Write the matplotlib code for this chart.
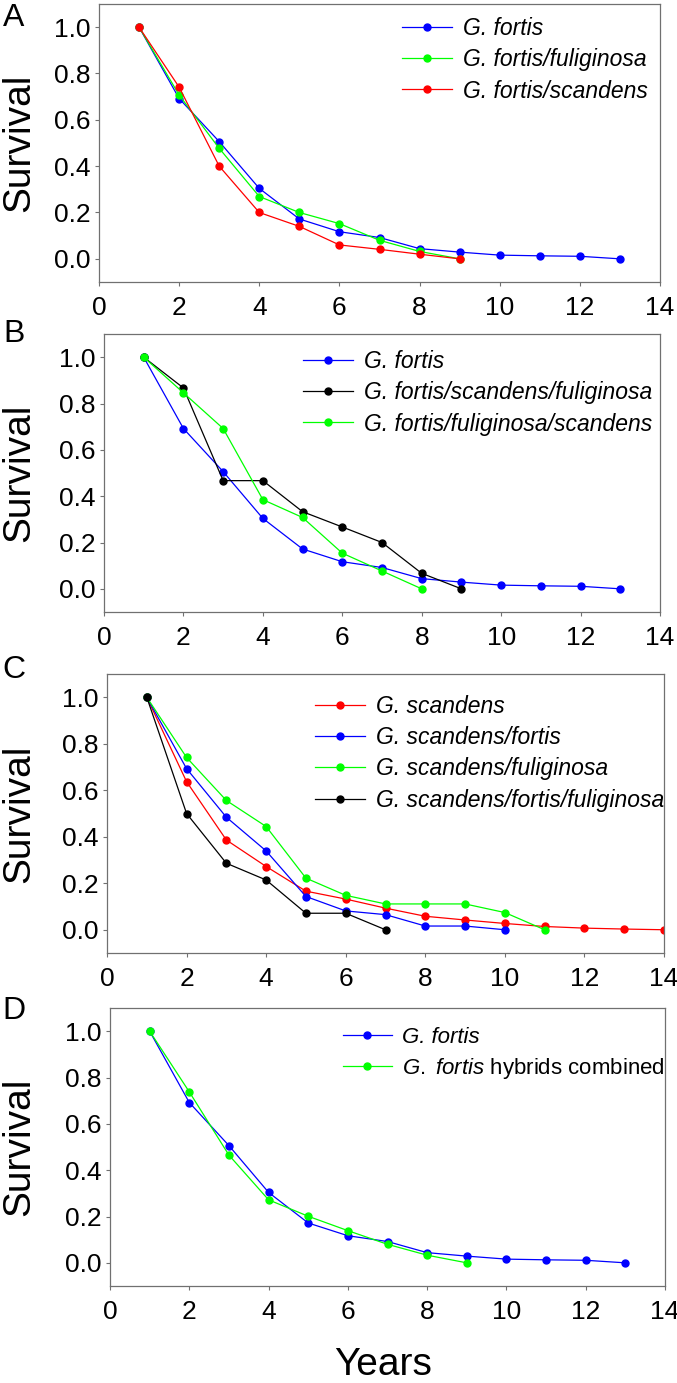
import numpy as np
import matplotlib
matplotlib.use("Agg")
from matplotlib import pyplot as plt

plt.rcParams['font.family'] = ['Liberation Sans', 'DejaVu Sans']
plt.rcParams['mathtext.fontset'] = 'custom'
plt.rcParams['mathtext.rm'] = 'Liberation Sans'
plt.rcParams['mathtext.it'] = 'Liberation Sans:italic'

# survival values, year 1 onwards
fortis = [1.0, 0.692, 0.506, 0.304, 0.172, 0.117, 0.092, 0.044, 0.029, 0.016, 0.013, 0.011, 0.0]
fortis_fuliginosa = [1.0, 0.707, 0.477, 0.269, 0.200, 0.152, 0.080, 0.032, 0.0]
fortis_scandens = [1.0, 0.741, 0.400, 0.200, 0.140, 0.060, 0.041, 0.020, 0.0]

fortis_scandens_fuliginosa = [1.0, 0.867, 0.467, 0.467, 0.333, 0.267, 0.200, 0.067, 0.0]
fortis_fuliginosa_scandens = [1.0, 0.846, 0.692, 0.385, 0.308, 0.154, 0.077, 0.0]

scandens = [1.0, 0.637, 0.386, 0.272, 0.166, 0.132, 0.093, 0.058, 0.042, 0.027, 0.014, 0.007, 0.003, 0.0]
scandens_fortis = [1.0, 0.693, 0.484, 0.339, 0.143, 0.081, 0.065, 0.016, 0.016, 0.0]
scandens_fuliginosa = [1.0, 0.741, 0.556, 0.444, 0.222, 0.148, 0.111, 0.111, 0.111, 0.074, 0.0]
scandens_fortis_fuliginosa = [1.0, 0.500, 0.286, 0.214, 0.071, 0.071, 0.0]

fortis_hybrids = [1.0, 0.738, 0.465, 0.272, 0.201, 0.139, 0.080, 0.033, 0.0]

BLUE = '#0000ff'
GREEN = '#00ff00'
RED = '#ff0000'
BLACK = '#000000'

W, H = 677, 1383
fig = plt.figure(figsize=(W / 100, H / 100), dpi=100)


def px_axes(left, top, right, bottom):
    return fig.add_axes([left / W, 1 - bottom / H, (right - left) / W, (bottom - top) / H])


def style(ax, top, bottom):
    ax.set_xlim(0, 14)
    ax.set_ylim(-0.1, 1.1)
    ax.set_xticks(np.arange(0, 15, 2))
    ax.set_yticks(np.arange(0, 1.01, 0.2))
    ax.set_yticklabels(['%.1f' % v for v in np.arange(0, 1.01, 0.2)])
    for s in ax.spines.values():
        s.set_color('#707070')
        s.set_linewidth(0.9)
    ax.tick_params(axis='both', direction='out', length=3, width=0.8, color='#707070',
                   labelsize=19)
    ax.tick_params(axis='x', pad=7)
    ax.tick_params(axis='y', pad=3)
    fig.text(19 / W, 1 - (top + bottom) / 2 / H, 'Survival', fontsize=28,
             rotation=90, ha='center', va='center')


def curve(ax, vals, color, label):
    yrs = np.arange(1, len(vals) + 1)
    ax.plot(yrs, vals, '-o', color=color, lw=0.9, ms=5, label=label)


def legend(ax, x, y, size=16.5):
    leg = ax.legend(loc='upper left', bbox_to_anchor=(x / W, 1 - y / H),
                    bbox_transform=fig.transFigure, frameon=False,
                    borderpad=0, borderaxespad=0, handlelength=2.2, handletextpad=0.45,
                    labelspacing=0.36, prop={'style': 'italic', 'size': size})
    return leg


# A
axA = px_axes(99, 4, 660, 282)
curve(axA, fortis, BLUE, 'G. fortis')
curve(axA, fortis_fuliginosa, GREEN, 'G. fortis/fuliginosa')
curve(axA, fortis_scandens, RED, 'G. fortis/scandens')
style(axA, 4, 282)
legend(axA, 402, 17)

# B
axB = px_axes(104, 334, 660, 612)
curve(axB, fortis, BLUE, 'G. fortis')
curve(axB, fortis_scandens_fuliginosa, BLACK, 'G. fortis/scandens/fuliginosa')
curve(axB, fortis_fuliginosa_scandens, GREEN, 'G. fortis/fuliginosa/scandens')
style(axB, 334, 612)
legend(axB, 303, 350)

# C
axC = px_axes(107, 674, 664, 953)
curve(axC, scandens, RED, 'G. scandens')
curve(axC, scandens_fortis, BLUE, 'G. scandens/fortis')
curve(axC, scandens_fuliginosa, GREEN, 'G. scandens/fuliginosa')
curve(axC, scandens_fortis_fuliginosa, BLACK, 'G. scandens/fortis/fuliginosa')
style(axC, 674, 953)
legend(axC, 315, 695)

# D
axD = px_axes(110, 1008, 665, 1286)
curve(axD, fortis, BLUE, 'G. fortis')
curve(axD, fortis_hybrids, GREEN, r'$\mathit{G.\ fortis}$ hybrids combined')
style(axD, 1008, 1286)
legD = legend(axD, 343, 1027, size=16)
legD.get_texts()[1].set_fontstyle('normal')

fig.text(383 / W, 1 - 1365 / H, 'Years', fontsize=28, ha='center', va='center')

for letter, y in (('A', 18), ('B', 334), ('C', 670), ('D', 1011)):
    fig.text(14 / W, 1 - y / H, letter, fontsize=23, ha='center', va='center')

fig.savefig('out.png', dpi=100)
